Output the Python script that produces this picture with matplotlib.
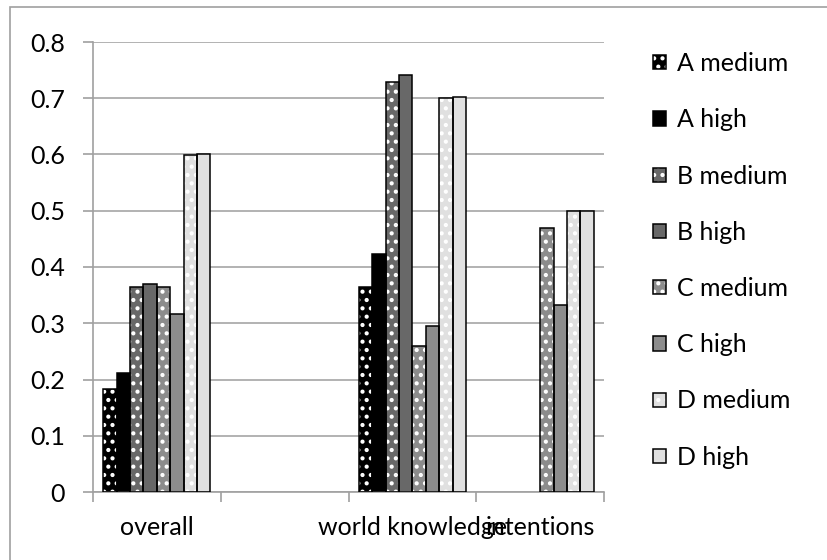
"""Barras agrupadas: puntuación por categoría de pregunta para los sistemas A-D
con configuración medium / high (estilo gráfico de Excel en grises)."""
import numpy as np
import matplotlib
matplotlib.use("Agg")
import matplotlib.pyplot as plt
from matplotlib.patches import Patch, Rectangle
from matplotlib.legend_handler import HandlerTuple

categories = ["overall", "", "world knowledge", "intentions"]
series_names = ["A medium", "A high", "B medium", "B high",
                "C medium", "C high", "D medium", "D high"]

a_medium = [0.183, np.nan, 0.365, np.nan]
a_high = [0.212, np.nan, 0.424, np.nan]
b_medium = [0.364, np.nan, 0.729, np.nan]
b_high = [0.370, np.nan, 0.741, np.nan]
c_medium = [0.365, np.nan, 0.260, 0.469]
c_high = [0.316, np.nan, 0.296, 0.333]
d_medium = [0.600, np.nan, 0.701, 0.500]
d_high = [0.601, np.nan, 0.703, 0.500]
series_values = [a_medium, a_high, b_medium, b_high,
                 c_medium, c_high, d_medium, d_high]

fills = ["#000000", "#000000", "#686868", "#686868",
         "#8c8c8c", "#8c8c8c", "#e0e0e0", "#e0e0e0"]
dotted = [True, False, True, False, True, False, True, False]

plt.rcParams["font.family"] = ["Lato", "DejaVu Sans"]
plt.rcParams["hatch.linewidth"] = 1.8
FS = 18

fig = plt.figure(figsize=(8.27, 5.6), dpi=100)
ax = fig.add_axes([93 / 827, 1 - 492 / 560, (604 - 93) / 827, (492 - 42) / 560])

# marco exterior del gráfico (cortado a la derecha y abajo)
fig.patches.append(Rectangle((10 / 827, -0.1), 1.2, 1 - 7 / 560 + 0.1,
                             transform=fig.transFigure, fill=False,
                             edgecolor="#a0a0a0", linewidth=1.2, zorder=0))

x = np.arange(len(categories))
n = len(series_names)
group = 0.838
w = group / n
handles = []
for i, (vals, fc, dot) in enumerate(zip(series_values, fills, dotted)):
    pos = x - group / 2 + w * (i + 0.5)
    vals = np.array(vals, dtype=float)
    ax.bar(pos, vals, w, color=fc, hatch=".." if dot else None,
           edgecolor="white" if dot else fc, linewidth=0, zorder=2)
    ax.bar(pos, vals, w, fill=False, edgecolor="black", linewidth=1.1, zorder=3)
    p1 = Patch(facecolor=fc, hatch=".." if dot else None,
               edgecolor="white" if dot else fc, linewidth=0)
    p2 = Patch(fill=False, edgecolor="black", linewidth=1.1)
    handles.append((p1, p2))

ax.set_xlim(-0.5, len(categories) - 0.5)
ax.set_ylim(0, 0.8)
ax.set_yticks(np.arange(0, 0.81, 0.1))
ax.set_yticklabels(["0"] + [f"{v:.1f}" for v in np.arange(0.1, 0.81, 0.1)])
ax.yaxis.grid(True, color="#a6a6a6", linewidth=1.2, zorder=0)
ax.set_axisbelow(True)

ax.set_xticks(np.arange(-0.5, len(categories), 1.0))
ax.set_xticklabels([])
ax.set_xticks(x, minor=True)
ax.set_xticklabels(categories, minor=True)
ax.tick_params(axis="x", which="minor", length=0, pad=17, labelsize=FS)
ax.tick_params(axis="x", which="major", length=7, width=1.2, color="#a0a0a0")
ax.tick_params(axis="y", length=7, width=1.2, color="#a0a0a0", pad=13, labelsize=FS)

for s in ["top", "right"]:
    ax.spines[s].set_visible(False)
for s in ["left", "bottom"]:
    ax.spines[s].set_color("#a0a0a0")
    ax.spines[s].set_linewidth(1.2)

fig.legend(handles, series_names, handler_map={tuple: HandlerTuple(ndivide=1)},
           loc="upper left", bbox_to_anchor=(653 / 827, 1 - 52 / 560),
           frameon=False, fontsize=FS, borderpad=0, borderaxespad=0,
           handlelength=0.5, handleheight=0.5, handletextpad=0.45,
           labelspacing=1.33)

fig.savefig("out.png", dpi=100)
